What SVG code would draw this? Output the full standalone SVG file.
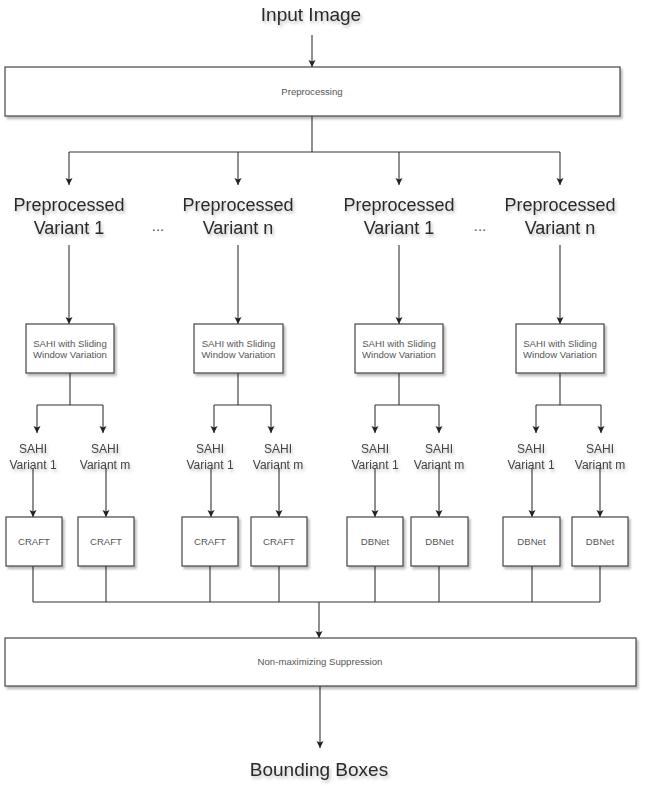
<svg xmlns="http://www.w3.org/2000/svg" width="650" height="789" viewBox="0 0 650 789">
<defs>
<filter id="sh" x="-10%" y="-10%" width="130%" height="140%">
<feDropShadow dx="2" dy="2.5" stdDeviation="1.3" flood-color="#000" flood-opacity="0.28"/>
</filter>
<filter id="tsh" x="-10%" y="-20%" width="130%" height="160%">
<feDropShadow dx="1.5" dy="2.5" stdDeviation="1.5" flood-color="#000" flood-opacity="0.25"/>
</filter>
<marker id="ah" viewBox="0 0 8 8" refX="7" refY="4" markerWidth="8" markerHeight="8" markerUnits="userSpaceOnUse" orient="auto">
<path d="M0,0.5 L7,4 L0,7.5 L1.5,4 Z" fill="#222"/>
</marker>
<style>
.box{fill:#fff;stroke:#444;stroke-width:1.2;filter:url(#sh)}
.big{font-family:"Liberation Sans",Arial,sans-serif;font-size:18px;fill:#2a2a2a;text-anchor:middle;filter:url(#tsh)}
.title{font-family:"Liberation Sans",Arial,sans-serif;font-size:19px;fill:#2a2a2a;text-anchor:middle;filter:url(#tsh)}
.mid{font-family:"Liberation Sans",Arial,sans-serif;font-size:12px;fill:#444;text-anchor:middle;filter:url(#tsh)}
.small{font-family:"Liberation Sans",Arial,sans-serif;font-size:9.6px;fill:#555;text-anchor:middle}
.dots{font-family:"Liberation Sans",Arial,sans-serif;font-size:15px;fill:#555;text-anchor:middle}
.ln{fill:none;stroke:#333;stroke-width:1.1}
.ar{fill:none;stroke:#333;stroke-width:1.1;marker-end:url(#ah)}
</style>
</defs>
<rect width="650" height="789" fill="#fff"/>

<g id="connectors">
<path class="ar" d="M312,35 V67"/>
<path class="ln" d="M312,116 V152 M69,152 H560"/>
<path class="ar" d="M69,152 V185"/>
<path class="ar" d="M238,152 V185"/>
<path class="ar" d="M399,152 V185"/>
<path class="ar" d="M560,152 V185"/>
<path class="ar" d="M69,245 V324"/>
<path class="ar" d="M238,245 V324"/>
<path class="ar" d="M399,245 V324"/>
<path class="ar" d="M560,245 V324"/>
<path class="ln" d="M70,373 V405 M37,405 H103"/>
<path class="ln" d="M238,373 V405 M214,405 H271"/>
<path class="ln" d="M399,373 V405 M375,405 H439"/>
<path class="ln" d="M560,373 V405 M536,405 H601"/>
<path class="ar" d="M37,405 V433"/>
<path class="ar" d="M103,405 V433"/>
<path class="ar" d="M214,405 V433"/>
<path class="ar" d="M271,405 V433"/>
<path class="ar" d="M375,405 V433"/>
<path class="ar" d="M439,405 V433"/>
<path class="ar" d="M536,405 V433"/>
<path class="ar" d="M601,405 V433"/>
<path class="ar" d="M33,468 V517"/>
<path class="ar" d="M106,468 V517"/>
<path class="ar" d="M211,468 V517"/>
<path class="ar" d="M279,468 V517"/>
<path class="ar" d="M375,468 V517"/>
<path class="ar" d="M439,468 V517"/>
<path class="ar" d="M532,468 V517"/>
<path class="ar" d="M600,468 V517"/>
<path class="ln" d="M33,566 V602 M106,566 V602 M210,566 V602 M279,566 V602 M375,566 V602 M439,566 V602 M532,566 V602 M600,566 V602 M33,602 H600"/>
<path class="ar" d="M319,602 V638"/>
<path class="ar" d="M320,686 V748"/>
</g>

<g id="input-image"><text class="title" x="311" y="21">Input Image</text></g>

<g id="preprocessing">
<rect class="box" x="5" y="67" width="615" height="49"/>
<text class="small" x="312" y="94.5">Preprocessing</text>
</g>

<g id="pv1a"><text class="big" x="69" y="211">Preprocessed</text><text class="big" x="69" y="234">Variant 1</text></g>
<g id="dots1"><text class="dots" x="158" y="231">...</text></g>
<g id="pvna"><text class="big" x="238" y="211">Preprocessed</text><text class="big" x="238" y="234">Variant n</text></g>
<g id="pv1b"><text class="big" x="399" y="211">Preprocessed</text><text class="big" x="399" y="234">Variant 1</text></g>
<g id="dots2"><text class="dots" x="480" y="231">...</text></g>
<g id="pvnb"><text class="big" x="560" y="211">Preprocessed</text><text class="big" x="560" y="234">Variant n</text></g>

<g id="sahi1"><rect class="box" x="26" y="324" width="88" height="49"/><text class="small" x="70" y="346.5">SAHI with Sliding</text><text class="small" x="70" y="358">Window Variation</text></g>
<g id="sahi2"><rect class="box" x="194" y="324" width="89" height="49"/><text class="small" x="238.5" y="346.5">SAHI with Sliding</text><text class="small" x="238.5" y="358">Window Variation</text></g>
<g id="sahi3"><rect class="box" x="355" y="324" width="88" height="49"/><text class="small" x="399" y="346.5">SAHI with Sliding</text><text class="small" x="399" y="358">Window Variation</text></g>
<g id="sahi4"><rect class="box" x="516" y="324" width="88" height="49"/><text class="small" x="560" y="346.5">SAHI with Sliding</text><text class="small" x="560" y="358">Window Variation</text></g>

<g id="sv1a"><text class="mid" x="33" y="453">SAHI</text><text class="mid" x="33" y="469">Variant 1</text></g>
<g id="svma"><text class="mid" x="105" y="453">SAHI</text><text class="mid" x="105" y="469">Variant m</text></g>
<g id="sv1b"><text class="mid" x="210" y="453">SAHI</text><text class="mid" x="210" y="469">Variant 1</text></g>
<g id="svmb"><text class="mid" x="278" y="453">SAHI</text><text class="mid" x="278" y="469">Variant m</text></g>
<g id="sv1c"><text class="mid" x="375" y="453">SAHI</text><text class="mid" x="375" y="469">Variant 1</text></g>
<g id="svmc"><text class="mid" x="439" y="453">SAHI</text><text class="mid" x="439" y="469">Variant m</text></g>
<g id="sv1d"><text class="mid" x="531" y="453">SAHI</text><text class="mid" x="531" y="469">Variant 1</text></g>
<g id="svmd"><text class="mid" x="600" y="453">SAHI</text><text class="mid" x="600" y="469">Variant m</text></g>

<g id="craft1"><rect class="box" x="6" y="517" width="56" height="49"/><text class="small" x="34" y="545">CRAFT</text></g>
<g id="craft2"><rect class="box" x="78" y="517" width="56" height="49"/><text class="small" x="106" y="545">CRAFT</text></g>
<g id="craft3"><rect class="box" x="182" y="517" width="56" height="49"/><text class="small" x="210" y="545">CRAFT</text></g>
<g id="craft4"><rect class="box" x="251" y="517" width="56" height="49"/><text class="small" x="279" y="545">CRAFT</text></g>
<g id="dbnet1"><rect class="box" x="347" y="517" width="56" height="49"/><text class="small" x="375" y="545">DBNet</text></g>
<g id="dbnet2"><rect class="box" x="411" y="517" width="57" height="49"/><text class="small" x="439.5" y="545">DBNet</text></g>
<g id="dbnet3"><rect class="box" x="503" y="517" width="57" height="49"/><text class="small" x="531.5" y="545">DBNet</text></g>
<g id="dbnet4"><rect class="box" x="572" y="517" width="56" height="49"/><text class="small" x="600" y="545">DBNet</text></g>

<g id="nms">
<rect class="box" x="5" y="638" width="631" height="48"/>
<text class="small" x="320" y="665">Non-maximizing Suppression</text>
</g>

<g id="bounding-boxes"><text class="title" x="319" y="776">Bounding Boxes</text></g>
</svg>
